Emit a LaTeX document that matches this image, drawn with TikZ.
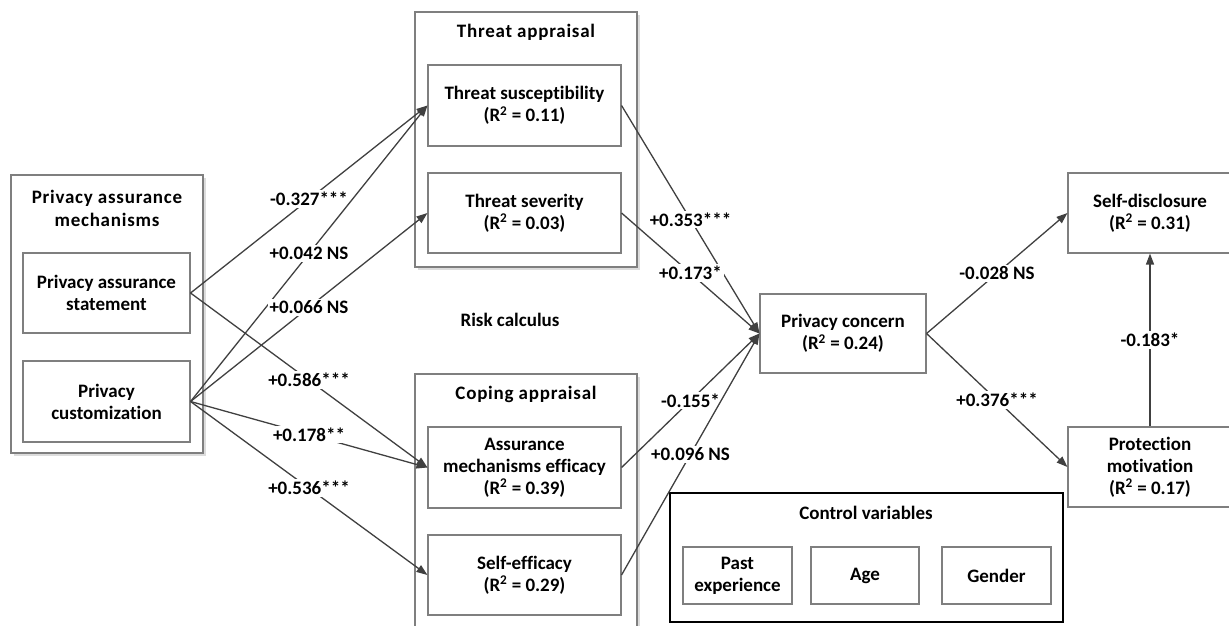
\documentclass[tikz,border=0pt]{standalone}
\usepackage{fontspec}
\setmainfont{Carlito}[Ligatures=NoCommon]
\usetikzlibrary{positioning,arrows.meta,shadows}
\definecolor{boxgrey}{HTML}{7F7F7F}
\definecolor{linegrey}{HTML}{404040}
\definecolor{shadegrey}{HTML}{DCDCDC}
\newcommand{\rsq}[1]{(R\textsuperscript{2} = #1)}
\tikzset{
  vbox/.style={rectangle, draw=boxgrey, fill=white, line width=1.1pt,
               align=center, inner sep=2pt,
               font=\fontsize{19}{22}\selectfont\bfseries},
  grp/.style={rectangle, draw=boxgrey, fill=white, line width=1.1pt,
              drop shadow={shadow xshift=2.5pt, shadow yshift=-2.5pt,
                           fill=shadegrey, opacity=1}},
  ttl/.style={align=center, inner sep=1pt,
              font=\fontsize{19}{23}\selectfont\bfseries\addfontfeature{LetterSpace=4}},
  ar/.style={-{Triangle[length=11pt,width=8pt]}, line width=1.3pt, draw=linegrey},
  lbl/.style={pos=0.5, fill=white, inner sep=2pt,
              font=\fontsize{19}{22}\selectfont\bfseries},
}

\begin{document}
\begin{tikzpicture}[x=1pt, y=-1pt]
  \useasboundingbox (0,0) rectangle (1229,625);
  \clip (0,0) rectangle (1229,625);

  % privacy assurance mechanisms
  \node[grp, minimum width=192, minimum height=278] (pam) at (107,314) {};
  \node[ttl] (pamt) at (107,208) {Privacy assurance\\mechanisms};
  \node[vbox, minimum width=167, minimum height=80] (pas) at (106.5,293) {Privacy assurance\\statement};
  \node[vbox, minimum width=167, minimum height=81] (pcu) at (106.5,401.5) {Privacy\\customization};

  % threat appraisal
  \node[grp, minimum width=222, minimum height=255] (tap) at (526,139.5) {};
  \node[ttl] (tapt) at (526,32) {Threat appraisal};
  \node[vbox, minimum width=193, minimum height=81] (tsu) at (524.5,105.5) {Threat susceptibility\\\rsq{0.11}};
  \node[vbox, minimum width=193, minimum height=80] (tse) at (524.5,213) {Threat severity\\\rsq{0.03}};

  % coping appraisal
  \node[grp, minimum width=222, minimum height=266] (cap) at (526,507) {};
  \node[ttl] (capt) at (526,394) {Coping appraisal};
  \node[vbox, minimum width=193, minimum height=81] (ame) at (524.5,467.5) {Assurance\\mechanisms efficacy\\\rsq{0.39}};
  \node[vbox, minimum width=193, minimum height=80] (sef) at (524.5,575) {Self-efficacy\\\rsq{0.29}};

  \node[ttl, font=\fontsize{19}{22}\selectfont\bfseries] (risk) at (510,320) {Risk calculus};

  % outcomes
  \node[vbox, minimum width=166, minimum height=79] (pcon) at (843,333.5) {Privacy concern\\\rsq{0.24}};
  \node[vbox, minimum width=164, minimum height=80] (sdis) at (1150,213) {Self-disclosure\\\rsq{0.31}};
  \node[vbox, minimum width=164, minimum height=80] (pmot) at (1150,467) {Protection\\motivation\\\rsq{0.17}};

  % control variables
  \node[rectangle, draw=black, line width=1.5pt, minimum width=393, minimum height=129] (ctrl) at (866.5,557.5) {};
  \node[ttl, font=\fontsize{19}{22}\selectfont\bfseries] (ctrlt) at (866,513) {Control variables};
  \node[vbox, minimum width=109, minimum height=57] (pexp) at (737.5,575.5) {Past\\experience};
  \node[vbox, minimum width=108, minimum height=57] (age) at (865,575.5) {Age};
  \node[vbox, minimum width=109, minimum height=57] (gen) at (996.5,575.5) {Gender};

  % paths
  \draw[ar] (pas.east) -- node[lbl] {-0.327***} (tsu.west);
  \draw[ar] (pcu.east) -- node[lbl] {+0.042 NS} (tsu.west);
  \draw[ar] (pcu.east) -- node[lbl] {+0.066 NS} (tse.west);
  \draw[ar] (pas.east) -- node[lbl] {+0.586***} (ame.west);
  \draw[ar] (pcu.east) -- node[lbl] {+0.178**} (ame.west);
  \draw[ar] (pcu.east) -- node[lbl] {+0.536***} (sef.west);
  \draw[ar] (tsu.east) -- node[lbl] {+0.353***} (pcon.west);
  \draw[ar] (tse.east) -- node[lbl] {+0.173*} (pcon.west);
  \draw[ar] (ame.east) -- node[lbl] {-0.155*} (pcon.west);
  \draw[ar] (sef.east) -- node[lbl] {+0.096 NS} (pcon.west);
  \draw[ar] (pcon.east) -- node[lbl] {-0.028 NS} (sdis.west);
  \draw[ar] (pcon.east) -- node[lbl] {+0.376***} (pmot.west);
  \draw[ar] (pmot.north) -- node[lbl] {-0.183*} (sdis.south);
\end{tikzpicture}
\end{document}
